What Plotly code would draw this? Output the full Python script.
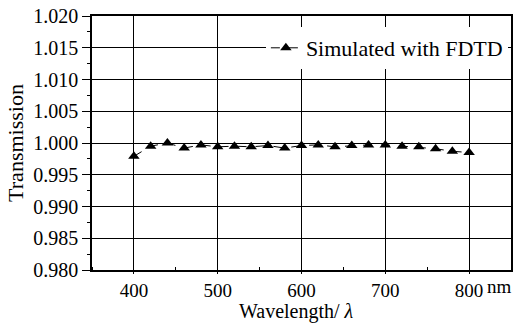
import plotly.graph_objects as go

wavelength = [400, 420, 440, 460, 480, 500, 520, 540, 560, 580, 600,
              620, 640, 660, 680, 700, 720, 740, 760, 780, 800]
transmission = [0.9979, 0.9995, 1.0000, 0.9992, 0.9997, 0.9994, 0.9995,
                0.9994, 0.9996, 0.9992, 0.9996, 0.9997, 0.9994, 0.9996,
                0.9997, 0.9997, 0.9995, 0.9994, 0.9991, 0.9987, 0.9985]
y_ticks = [0.980, 0.985, 0.990, 0.995, 1.000, 1.005, 1.010, 1.015, 1.020]
y_labels = ["0.980", "0.985", "0.990", "0.995", "1.000", "1.005", "1.010", "1.015", "1.020"]
x_ticks = [400, 500, 600, 700, 800]
series_name = "Simulated with FDTD"
x_title = "Wavelength/ <i>λ</i>"

FONT = "Liberation Serif"

fig = go.Figure()
fig.add_trace(go.Scatter(
    x=wavelength, y=transmission, mode="lines+markers", name=series_name,
    line=dict(color="black", width=1, dash="dash"),
    marker=dict(symbol="triangle-up", size=10, color="black"),
))

fig.update_layout(
    width=519, height=324,
    margin=dict(l=92, r=8, t=16, b=54, autoexpand=False),
    paper_bgcolor="white", plot_bgcolor="white",
    font=dict(family=FONT, size=20, color="black"),
    showlegend=True,
    legend=dict(x=0.415, y=0.874, xanchor="left", yanchor="middle",
                bgcolor="white", borderwidth=0, font=dict(size=22),
                itemwidth=30, tracegroupgap=0),
    xaxis=dict(range=[350, 850], tickvals=x_ticks, ticks="outside", ticklen=2,
               tickcolor="black", automargin=False,
               showgrid=True, gridcolor="black", gridwidth=1,
               showline=True, linecolor="black", linewidth=1.5, mirror=True,
               zeroline=False,
               minor=dict(dtick=50, tick0=350, ticks="inside", ticklen=3, tickcolor="black", showgrid=False),
               tickfont=dict(size=19)),
    yaxis=dict(range=[0.980, 1.020], tickvals=y_ticks, ticktext=y_labels,
               automargin=False,
               ticks="outside", ticklen=8, tickcolor="black",
               showgrid=True, gridcolor="black", gridwidth=1,
               showline=True, linecolor="black", linewidth=1.5, mirror=True,
               zeroline=False,
               minor=dict(dtick=0.0025, tick0=0.98, ticks="outside", ticklen=3, tickcolor="black", showgrid=False),
               title=dict(text="Transmission", font=dict(size=22), standoff=4),
               tickfont=dict(size=20)),
)

fig.add_annotation(x=0.5, y=0, xref="paper", yref="paper", text=x_title,
                   showarrow=False, xanchor="center", yanchor="bottom",
                   xshift=-5, yshift=-55, font=dict(size=20, family=FONT))

fig.add_annotation(x=800, y=0, xref="x", yref="paper", text="nm",
                   showarrow=False, xanchor="left", yanchor="top",
                   xshift=16, yshift=-4, font=dict(size=19, family=FONT))

fig.write_html("out.html", config={"displayModeBar": False},
               post_script="document.body.style.margin='0';document.body.style.overflow='hidden';")
